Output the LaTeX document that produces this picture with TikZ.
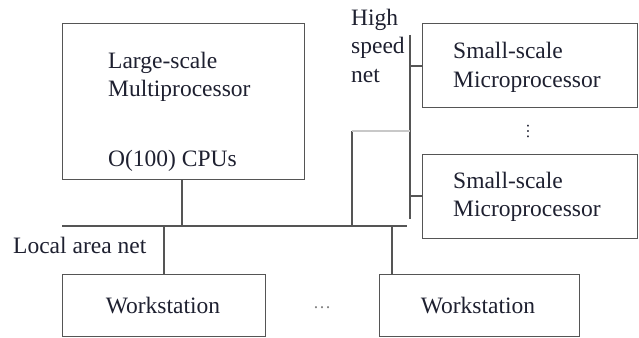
\documentclass[tikz,border=0pt]{standalone}
\usepackage{fontspec}
\setmainfont{Liberation Serif}
\definecolor{ln}{HTML}{555555}
\definecolor{lnlight}{HTML}{C8C8C8}
\definecolor{txt}{HTML}{1E2030}
\begin{document}
\begin{tikzpicture}[x=1pt,y=-1pt,
  box/.style={draw=ln, line width=1.3pt, rectangle, anchor=north west, inner sep=0pt},
  wire/.style={draw=ln, line width=1.3pt},
  lbl/.style={text=txt, font=\fontsize{23.5}{28}\selectfont, inner sep=0pt, align=left},
]
\useasboundingbox (0,0) rectangle (639,337);
% boxes
\node[box, minimum width=242pt, minimum height=156pt] (big) at (62,23) {};
\node[box, minimum width=215pt, minimum height=84pt] (s1) at (422,23) {};
\node[box, minimum width=215pt, minimum height=84pt] (s2) at (422,154) {};
\node[box, minimum width=203pt, minimum height=62pt] (w1) at (62,274) {};
\node[box, minimum width=200pt, minimum height=62pt] (w2) at (379,274) {};
% texts
\node[lbl, anchor=base west] (t1) at (108,68) {Large-scale};
\node[lbl, anchor=base west] (t2) at (108,96) {Multiprocessor};
\node[lbl, anchor=base west] (t3) at (108,166) {O(100) CPUs};
\node[lbl, anchor=base west] (t4) at (453,59) {Small-scale};
\node[lbl, anchor=base west] (t5) at (453,87) {Microprocessor};
\node[lbl, anchor=base west] (t6) at (453,188) {Small-scale};
\node[lbl, anchor=base west] (t7) at (453,216) {Microprocessor};
\node[lbl, anchor=base west] (t8) at (351,26) {High};
\node[lbl, anchor=base west] (t9) at (351,54) {speed};
\node[lbl, anchor=base west] (t10) at (351,82) {net};
\node[lbl, anchor=base west] (t11) at (13,253) {Local area net};
\node[lbl, anchor=base] (t12) at (163,313) {Workstation};
\node[lbl, anchor=base] (t13) at (478,313) {Workstation};
\node[lbl, text=gray, font=\fontsize{18}{18}\selectfont, anchor=base] (dh) at (322,308) {…};
\node[lbl, text=txt, font=\fontsize{16}{16}\selectfont, rotate=-90, anchor=center] (dv) at (528,131) {…};
% network coordinates
\coordinate (lanL) at (62,226);
\coordinate (lanR) at (407,226);
\coordinate (hsT) at (410,35);
\coordinate (hsB) at (410,219);
\coordinate (lan1) at (182,226);
\coordinate (lan2) at (164,226);
\coordinate (lan3) at (392,226);
\coordinate (lan4) at (352,226);
\coordinate (hsc) at (352,131);
\coordinate (hsj) at (410,131);
\coordinate (hs1) at (410,66);
\coordinate (hs2) at (410,196);
% wires
\draw[wire] (lanL) -- (lanR);
\draw[wire] (hsT) -- (hsB);
\draw[wire] (big.south -| lan1) -- (lan1);
\draw[wire] (lan2) -- (w1.north -| lan2);
\draw[wire] (lan3) -- (w2.north -| lan3);
\draw[wire] (hs1) -- (s1.west |- hs1);
\draw[wire] (hs2) -- (s2.west |- hs2);
\draw[wire] (lan4) -- (hsc);
\draw[draw=lnlight, line width=1.3pt] (hsc) -- (hsj);
\end{tikzpicture}
\end{document}
